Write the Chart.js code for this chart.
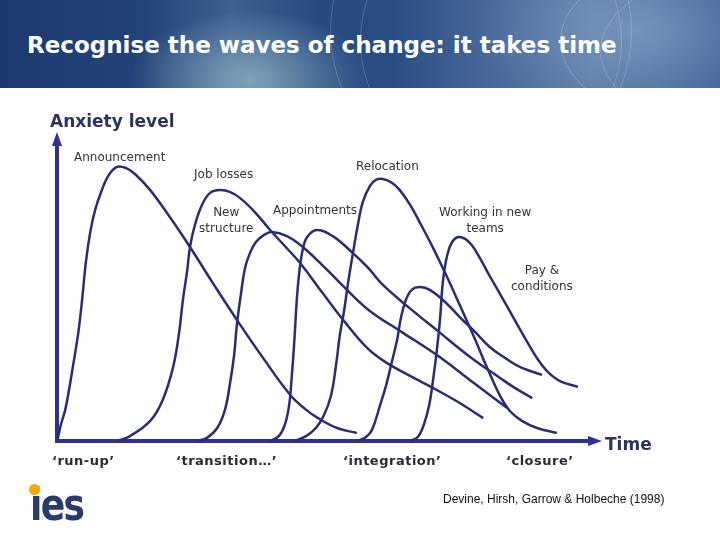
<!DOCTYPE html>
<html>
<head>
<meta charset="utf-8">
<script src="https://cdn.jsdelivr.net/npm/chart.js@4"></script>
<style>
  body { margin:0; width:720px; height:540px; background:#fff; position:relative; overflow:hidden; font-family:"DejaVu Sans", sans-serif; }
  #header { position:absolute; left:0; top:0; width:720px; height:88px; overflow:hidden;
    background:
      radial-gradient(ellipse 120px 70px at 250px 80px, rgba(150,185,200,0.75), rgba(150,185,200,0) 100%),
      radial-gradient(ellipse 160px 90px at 640px 30px, rgba(140,170,205,0.6), rgba(140,170,205,0) 100%),
      linear-gradient(90deg, #1d3a70 0%, #234478 20%, #3d6090 32%, #264a80 45%, #2a4e84 55%, #49699a 68%, #5b7aa6 82%, #3f6196 100%); }
  .arc { position:absolute; border:1px solid rgba(255,255,255,0.18); border-radius:50%; }
  #title { position:absolute; left:27px; top:32px; color:#fff; font-weight:bold; font-size:23px; white-space:nowrap; }
  #chartBox { position:absolute; left:0; top:0; width:720px; height:540px; }
  .lbl { position:absolute; font-size:12px; color:#333; white-space:nowrap; line-height:16px; text-align:center; }
  .phase { position:absolute; top:453px; font-size:13px; font-weight:bold; color:#2a2a3c; white-space:nowrap; letter-spacing:0.5px; }
  .axisTitle { position:absolute; font-size:17px; font-weight:bold; color:#2c3360; white-space:nowrap; }
  #cite { position:absolute; left:443px; top:492px; font-family:"Liberation Sans", sans-serif; font-size:12px; color:#111; white-space:nowrap; }
  #logo { position:absolute; left:30px; top:479px; font-size:44px; font-weight:bold; color:#2b3a6a; letter-spacing:-2px; line-height:51.2px; transform:scaleX(0.82); transform-origin:left top; }
  #dot { position:absolute; left:29px; top:484px; width:11px; height:11px; border-radius:50%; background:#f2a900; }
</style>
</head>
<body>
<div id="header">
  <div class="arc" style="left:330px;top:-120px;width:300px;height:300px;"></div>
  <div class="arc" style="left:360px;top:-90px;width:260px;height:260px;"></div>
  <div class="arc" style="left:560px;top:-60px;width:420px;height:200px;"></div>
  <div class="arc" style="left:600px;top:-40px;width:360px;height:180px;"></div>
  <div id="title">Recognise the waves of change: it takes time</div>
</div>
<div id="chartBox"><canvas id="waves" width="720" height="540"></canvas></div>

<div class="axisTitle" style="left:50px;top:111px;">Anxiety level</div>
<div class="axisTitle" style="left:605px;top:434px;">Time</div>

<div class="lbl" style="left:74px;top:149px;">Announcement</div>
<div class="lbl" style="left:194px;top:166px;">Job losses</div>
<div class="lbl" style="left:199px;top:204px;">New<br>structure</div>
<div class="lbl" style="left:273px;top:202px;">Appointments</div>
<div class="lbl" style="left:356px;top:158px;">Relocation</div>
<div class="lbl" style="left:439px;top:204px;">Working in new<br>teams</div>
<div class="lbl" style="left:511px;top:262px;">Pay &amp;<br>conditions</div>

<div id="phases"></div>

<div id="logo">ies</div>
<div id="dot"></div>
<div id="cite">Devine, Hirsh, Garrow &amp; Holbeche (1998)</div>

<script>
// time 0..100 along the axis, anxiety 0..100 up the axis
var announcement = [[0.1,0.3],[0.7,5.2],[1.5,10],[2.2,16.5],[2.9,23.9],[3.9,35],[4.6,45.6],[5.3,57.9],[6.1,67.6],[7,74.8],[8.1,80.6],[9.4,85.8],[11,88.7],[12.7,88.3],[14.3,86.4],[17.1,81.2],[20.7,72.5],[24.4,62.8],[28.6,51.1],[33,39.2],[37.8,26.9],[42.8,14.9],[45.5,10.4],[47.9,7.4],[51.4,4.2],[55,2.6]];
var jobLosses = [[11,0],[13.4,1.6],[17.1,6.5],[19.4,13.3],[21.3,23.9],[22.4,35],[23.1,45.6],[23.9,55.3],[24.4,62.8],[25.3,69.9],[26.6,76.4],[28.1,80.3],[29.9,81.2],[31.7,80.6],[33.6,78.6],[36.3,74.1],[39.1,68.3],[41.8,63.1],[44.6,57.6],[48.6,48.2],[52.5,39.2],[56.9,30.1],[60.2,25.6],[63.5,22.3],[66.6,19.4],[69.7,16.5],[73.9,12.3],[78.2,7.4]];
var newStructure = [[25.7,0],[27.5,1],[29.4,4.2],[30.8,10],[31.7,18.1],[32.5,27.8],[33,37.5],[33.8,48.2],[34.5,56],[35.4,60.8],[36.5,64.4],[38,66.7],[39.4,67.6],[42.2,66.3],[45.1,62.8],[49.2,56],[53.2,48.9],[57.4,42.1],[63.5,35],[69.7,27.8],[75.8,19.7],[79.4,14.9],[82.6,10.7]];
var appointments = [[39.1,0],[40.7,1.6],[41.8,5.2],[42.6,11.7],[43.1,21.4],[43.5,31.1],[44,45.6],[44.4,53.7],[45,61.2],[45.9,66],[47.7,68.3],[50.6,66.3],[54.3,60.8],[57.1,56],[59.8,50.5],[64.7,43],[70.3,35],[75.8,27.2],[81.3,20.4],[84,17.2],[87.2,13.9]];
var relocation = [[43.5,0],[45.7,1.6],[47.5,4.2],[49,8.4],[50.3,14.9],[51.2,24.6],[51.9,34.3],[52.7,42.4],[53.4,51.1],[54.3,60.8],[55.2,69.9],[56.1,77.3],[57.4,82.5],[58.5,84.5],[59.8,84.8],[61.5,83.5],[62.9,81.2],[64.8,76.4],[66.6,70.6],[69,62.5],[71.4,53.7],[73.9,44],[76.5,33.7],[79.1,23],[81.3,14.6],[83.1,9.7],[85.3,6.5],[88.1,4.2],[91.7,2.6]];
var payConditions = [[55.2,0],[56.7,1.3],[57.8,3.6],[59.3,11.7],[60.4,18.1],[61.3,24.6],[62.4,32.7],[63.1,39.8],[64,45.6],[65.1,48.9],[66.6,49.8],[68.4,48.9],[71.2,45],[73.9,40.1],[76.7,35.3],[79.4,30.4],[82.2,26.9],[85,23.9],[89,21.4]];
var newTeams = [[64.8,0],[66.2,1.3],[67.3,5.2],[68.3,11.7],[69,19.7],[69.7,29.4],[70.3,39.8],[70.8,51.5],[71.6,60.2],[72.5,64.4],[73.6,66],[74.9,65.4],[76.1,63.4],[77.6,59.2],[79.4,53.4],[81.8,46],[84.2,38.5],[86.4,31.7],[88.3,26.2],[90.1,22.3],[92.3,19.4],[95.6,17.5]];

var phaseLabels = ['\u2018run-up\u2019', '\u2018transition\u2026\u2019', '\u2018integration\u2019', '\u2018closure\u2019'];
var phaseLeft = [52, 176, 343, 506];

var phasesDiv = document.getElementById('phases');
phaseLabels.forEach(function(t, i) {
    var d = document.createElement('div');
    d.className = 'phase';
    d.style.left = phaseLeft[i] + 'px';
    d.textContent = t;
    phasesDiv.appendChild(d);
});

function toPoints(arr) {
    return arr.map(function(p) { return {x: p[0], y: p[1]}; });
}

var waves = [announcement, jobLosses, newStructure, appointments, relocation, payConditions, newTeams];
var waveColour = '#2b2d74';
var axisColour = '#2e3190';

// axes with arrow heads, drawn from the scales
var arrowAxes = {
    id: 'arrowAxes',
    beforeDatasetsDraw: function(chart) {
        var ctx = chart.ctx;
        var xs = chart.scales.x, ys = chart.scales.y;
        var x0 = xs.getPixelForValue(0), x1 = xs.getPixelForValue(100);
        var y0 = ys.getPixelForValue(0), y1 = ys.getPixelForValue(100);
        ctx.save();
        ctx.strokeStyle = axisColour;
        ctx.fillStyle = axisColour;
        ctx.lineWidth = 4;
        ctx.beginPath();
        ctx.moveTo(x0, y0 + 2);
        ctx.lineTo(x0, y1 + 10);
        ctx.moveTo(x0 - 2, y0);
        ctx.lineTo(x1 - 10, y0);
        ctx.stroke();
        ctx.beginPath();
        ctx.moveTo(x0, y1);
        ctx.lineTo(x0 - 5, y1 + 14);
        ctx.lineTo(x0 + 5, y1 + 14);
        ctx.closePath();
        ctx.fill();
        ctx.beginPath();
        ctx.moveTo(x1, y0);
        ctx.lineTo(x1 - 14, y0 - 5);
        ctx.lineTo(x1 - 14, y0 + 5);
        ctx.closePath();
        ctx.fill();
        ctx.restore();
    }
};

var chart = new Chart(document.getElementById('waves'), {
    type: 'line',
    data: {
        datasets: waves.map(function(w) {
            return {
                data: toPoints(w),
                borderColor: waveColour,
                borderWidth: 2.5,
                pointRadius: 0,
                fill: false,
                tension: 0.4,
                clip: false
            };
        })
    },
    options: {
        responsive: false,
        animation: false,
        layout: { padding: { left: 57, right: 118, top: 132, bottom: 99 } },
        plugins: { legend: { display: false }, tooltip: { enabled: false } },
        scales: {
            x: { type: 'linear', min: 0, max: 100, display: false },
            y: { type: 'linear', min: 0, max: 100, display: false }
        }
    },
    plugins: [arrowAxes]
});
</script>
</body>
</html>
